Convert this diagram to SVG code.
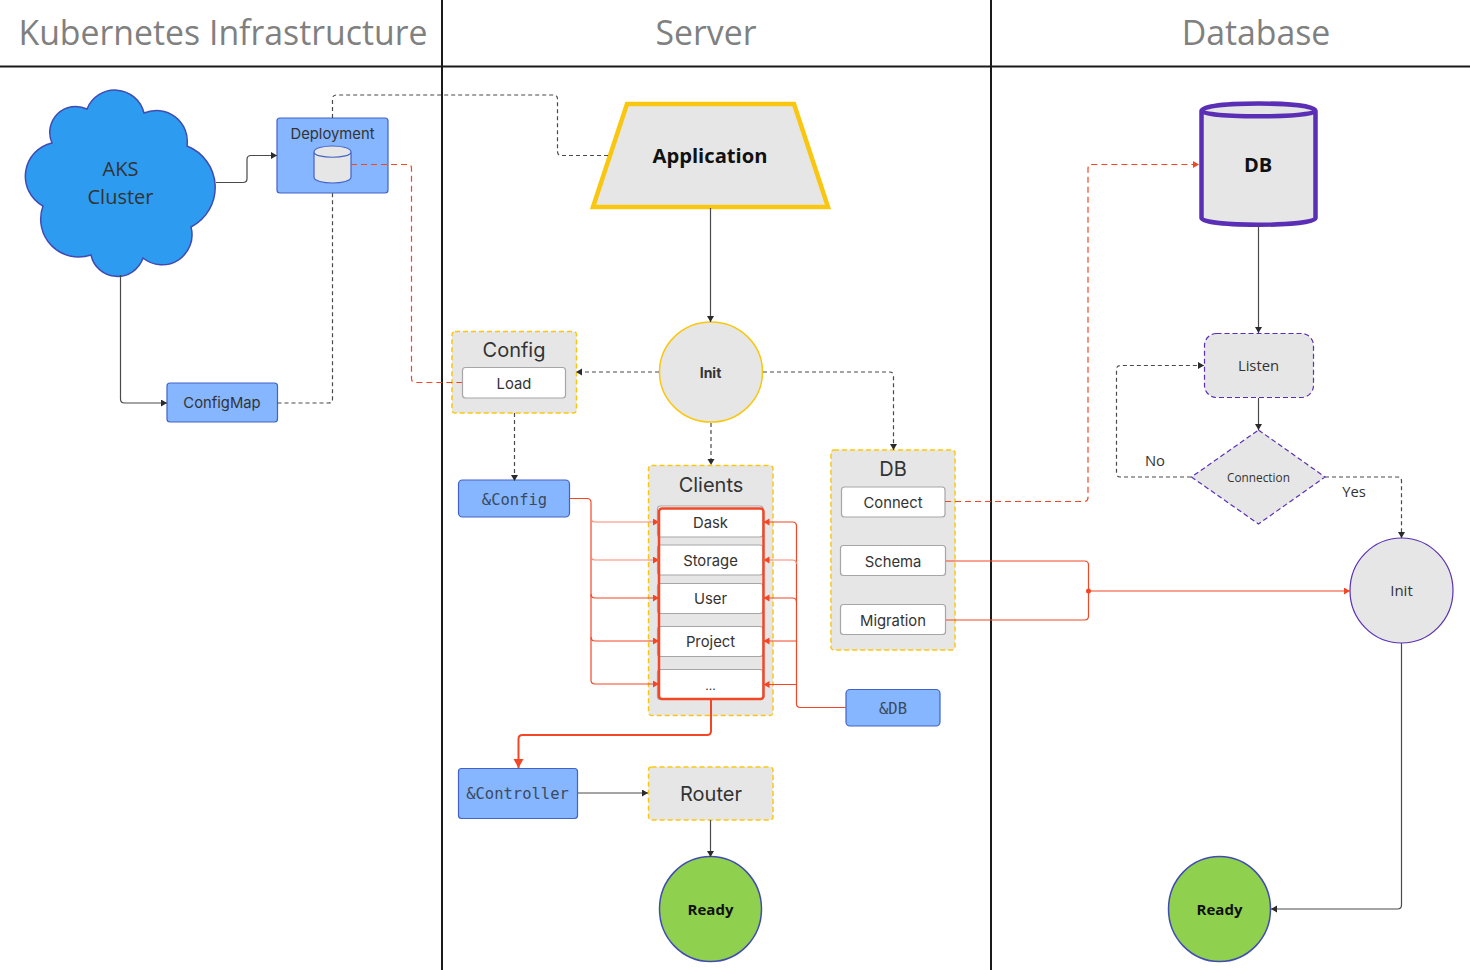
<svg xmlns="http://www.w3.org/2000/svg" width="1470" height="970" viewBox="0 0 1470 970">
<style>
text{text-anchor:middle;dominant-baseline:central;fill:#333;font-family:"Inter","Noto Sans",sans-serif}
.os{font-family:"Open Sans","Noto Sans",sans-serif}
.mono{font-family:"DejaVu Sans Mono","Liberation Mono",monospace;font-size:15.500px;fill:#3a4a60}
.title{font-family:"Open Sans","Noto Sans",sans-serif;font-size:33.800px;fill:#808080}
.lane{stroke:#1a1a1a;stroke-width:2;fill:none}
.grp{fill:#e6e6e6;stroke:#fac710;stroke-width:1.5;stroke-dasharray:5 3}
.wht{fill:#fff;stroke:#a6a6a6;stroke-width:1.2}
.blue{fill:#86b6ff;stroke:#4262c8;stroke-width:1.2}
.c{fill:none;stroke:#4a4a4a;stroke-width:1.2}
.d{stroke-dasharray:4 3}
.r{fill:none;stroke:#f24726;stroke-width:1.2}
.rd{stroke-dasharray:6 4}
.lt{stroke:#f98a74}
.a{marker-end:url(#ad)}
.ar{marker-end:url(#ar)}
.t20{font-size:20px}
.t15{font-size:14.800px}
</style>
<defs>
<marker id="ad" markerUnits="userSpaceOnUse" markerWidth="8" markerHeight="8" refX="6" refY="3.5" orient="auto"><path d="M0 0L6 3.5L0 7z" fill="#2b2b2b"/></marker>
<marker id="ar" markerUnits="userSpaceOnUse" markerWidth="8" markerHeight="8" refX="6" refY="3.5" orient="auto"><path d="M0 0L6 3.5L0 7z" fill="#f24726"/></marker>
<marker id="ar2" markerUnits="userSpaceOnUse" markerWidth="11" markerHeight="11" refX="9" refY="5" orient="auto"><path d="M0 0L9 5L0 10z" fill="#f24726"/></marker>
</defs>
<rect width="1470" height="970" fill="#fff"/>
<g id="lanes">
<path class="lane" d="M0 66.500H1470M442 0V970M991 0V970"/>
<text class="title" x="223" y="31.500">Kubernetes Infrastructure</text>
<text class="title" x="706" y="31.500">Server</text>
<text class="title" x="1256" y="31.500">Database</text>
</g>
<g id="aks">
<path d="M87 109A30 30 0 0 1 144 113A31 31 0 0 1 187 146A44.500 44.500 0 0 1 191 227A30 30 0 0 1 143 258A27 27 0 0 1 91 255A38 38 0 0 1 43 206A34 34 0 0 1 52 143A26 26 0 0 1 87 109Z" fill="#2d9bf0" stroke="#414bb2" stroke-width="1.5"/>
<text class="os" x="120.500" y="168" font-size="20">AKS</text>
<text class="os" x="120.500" y="196" font-size="20">Cluster</text>
</g>
<g id="deployment">
<rect class="blue" x="277" y="118" width="111" height="75" rx="3"/>
<text class="t15" x="332.500" y="134">Deployment</text>
<path d="M314 152V177C314 185 351 185 351 177V152C351 144 314 144 314 152C314 159 351 159 351 152" fill="#e6e6e6" stroke="#4262c8" stroke-width="1.2"/>
</g>
<g id="configmap"><rect class="blue" x="167" y="383" width="110.500" height="39" rx="3"/><text class="t15" x="222" y="403">ConfigMap</text></g>
<g id="application">
<path d="M593 207L627 104H794L828 207Z" fill="#e6e6e6" stroke="#fac710" stroke-width="4.500"/>
<text class="os" x="710" y="155" font-size="20.200" font-weight="700" style="fill:#111">Application</text>
</g>
<g id="init-server"><ellipse cx="711" cy="372" rx="51.500" ry="50" fill="#e6e6e6" stroke="#fac710" stroke-width="1.5"/><text x="710.500" y="372" font-size="14" font-weight="700">Init</text></g>
<g id="config">
<rect class="grp" x="452" y="331.500" width="124.500" height="81.500" rx="3"/>
<text class="t20" x="514" y="350">Config</text>
<rect class="wht" x="462.500" y="367.500" width="103" height="30.500" rx="3"/>
<text class="t15" x="514" y="383.500">Load</text>
</g>
<g id="and-config"><rect class="blue" x="458.500" y="480" width="111" height="37" rx="4"/><text class="mono" x="514.500" y="500">&amp;Config</text></g>
<g id="clients">
<rect class="grp" x="648.500" y="465.500" width="124.500" height="250" rx="3"/>
<text class="t20" x="711" y="484.500">Clients</text>
<rect class="wht" x="657.500" y="506" width="105.500" height="31" rx="3"/><text class="t15" x="710.500" y="523">Dask</text>
<rect class="wht" x="657.500" y="545" width="105.500" height="30" rx="3"/><text class="t15" x="710.500" y="561">Storage</text>
<rect class="wht" x="657.500" y="583.500" width="105.500" height="30" rx="3"/><text class="t15" x="710.500" y="599">User</text>
<rect class="wht" x="657.500" y="626.500" width="105.500" height="30" rx="3"/><text class="t15" x="710.500" y="642">Project</text>
<rect class="wht" x="657.500" y="669.500" width="105.500" height="30" rx="3"/><text class="t15" x="710.500" y="685" style="font-size:12px">...</text>
<rect x="659" y="508.500" width="104.500" height="190.500" rx="3" fill="none" stroke="#f24726" stroke-width="2.500"/>
</g>
<g id="db-group">
<rect class="grp" x="831" y="450" width="124" height="200" rx="3"/>
<text class="t20" x="893" y="468.500">DB</text>
<rect class="wht" x="841.500" y="487" width="103.500" height="30" rx="3"/><text class="t15" x="893" y="502.500">Connect</text>
<rect class="wht" x="840.500" y="545.500" width="105" height="30" rx="3"/><text class="t15" x="893" y="561.500">Schema</text>
<rect class="wht" x="840.500" y="604.500" width="105" height="30" rx="3"/><text class="t15" x="893" y="620.500">Migration</text>
</g>
<g id="and-db"><rect class="blue" x="846" y="689.500" width="94" height="36.500" rx="4"/><text class="mono" x="893" y="708.500">&amp;DB</text></g>
<g id="and-controller"><rect class="blue" x="458.500" y="768.500" width="119" height="50" rx="3"/><text class="mono" x="517.500" y="794">&amp;Controller</text></g>
<g id="router"><rect class="grp" x="648.500" y="767" width="124.500" height="53" rx="3"/><text class="t20" x="711" y="794">Router</text></g>
<g id="ready-server"><ellipse cx="710.500" cy="909" rx="51" ry="52.500" fill="#8fd14f" stroke="#414bb2" stroke-width="1.5"/><text class="os" x="710.500" y="909" font-size="15" font-weight="700" style="fill:#111">Ready</text></g>
<g id="db">
<path d="M1201.500 111V218C1201.500 227 1315.500 227 1315.500 218V111C1315.500 101 1201.500 101 1201.500 111C1201.500 118 1315.500 118 1315.500 111" fill="#e6e6e6" stroke="#5b2fb5" stroke-width="4.500"/>
<text class="os" x="1258" y="164.500" font-size="20" font-weight="700" style="fill:#111">DB</text>
</g>
<g id="listen"><rect x="1204.500" y="333.500" width="109" height="64" rx="12" fill="#e6e6e6" stroke="#5b2fb5" stroke-width="1.2" stroke-dasharray="5 3"/><text class="os" x="1258.500" y="365" font-size="14.800">Listen</text></g>
<g id="connection"><path d="M1258.500 430L1325 477L1258.500 524L1191.500 477Z" fill="#e6e6e6" stroke="#5b2fb5" stroke-width="1.2" stroke-dasharray="5 3"/><text class="os" x="1258.500" y="476.500" font-size="11.800">Connection</text></g>
<g id="init-db"><ellipse cx="1401.500" cy="590.500" rx="51.500" ry="52.500" fill="#e6e6e6" stroke="#5b2fb5" stroke-width="1.2"/><text class="os" x="1401.500" y="590" font-size="15">Init</text></g>
<g id="ready-db"><ellipse cx="1219.500" cy="909" rx="51" ry="52.500" fill="#8fd14f" stroke="#414bb2" stroke-width="1.5"/><text class="os" x="1219.500" y="909" font-size="15" font-weight="700" style="fill:#111">Ready</text></g>
<g id="connectors">
<path class="c a" d="M216 182.500H243Q247 182.500 247 178.500V159.500Q247 155.500 251 155.500H277"/>
<path class="c a" d="M120.500 275V399Q120.500 403 124.500 403H167"/>
<path class="c d" d="M277.500 403H328.500Q332.500 403 332.500 399V193"/>
<path class="c d" d="M332.500 118V99Q332.500 95 336.500 95H553.500Q557.500 95 557.500 99V151.500Q557.500 155.500 561.500 155.500H610"/>
<path class="r rd" d="M351 164.500H407.500Q411.500 164.500 411.500 168.500V378.500Q411.500 382.500 415.500 382.500H462"/>
<path class="c a" d="M710.500 208V322"/>
<path class="c d a" d="M659 372H576"/>
<path class="c d a" d="M763 372H889.500Q893.500 372 893.500 376V450"/>
<path class="c d a" d="M711 423V465"/>
<path class="c d a" d="M514.500 413V481"/>
<path class="r" d="M570 498.500H587Q591 498.500 591 502.500V680Q591 684 595 684H659" marker-end="url(#ar)"/>
<path class="r lt ar" d="M591 518Q591 522 595 522H659"/>
<path class="r lt ar" d="M591 556Q591 560 595 560H659"/>
<path class="r ar" d="M591 594Q591 598 595 598H659"/>
<path class="r ar" d="M591 637Q591 641 595 641H659"/>
<path class="r" d="M846 707.500H800.500Q796.500 707.500 796.500 703.500V526Q796.500 522 792.500 522H763.500" marker-end="url(#ar)"/>
<path class="r lt ar" d="M796.500 564Q796.500 560 792.500 560H763.500"/>
<path class="r ar" d="M796.500 602Q796.500 598 792.500 598H763.500"/>
<path class="r ar" d="M796.500 641H763.500"/>
<path class="r ar" d="M796.500 684.500H763.500"/>
<path d="M711 699V731Q711 735 707 735H522.500Q518.500 735 518.500 739V768" fill="none" stroke="#f24726" stroke-width="2" marker-end="url(#ar2)"/>
<path class="c a" d="M578 793H648"/>
<path class="c a" d="M710.500 820V857"/>
<path class="c a" d="M1258.500 226V333"/>
<path class="c a" d="M1258.500 398V430"/>
<path class="c d a" d="M1191 477H1120.500Q1116.500 477 1116.500 473V369.500Q1116.500 365.500 1120.500 365.500H1204"/>
<path class="c d a" d="M1325 477H1397.500Q1401.500 477 1401.500 481V538"/>
<path class="c a" d="M1401.500 643V905Q1401.500 909 1397.500 909H1271"/>
<path class="r rd ar" d="M945 501.500H1084Q1088 501.500 1088 497.500V168.500Q1088 164.500 1092 164.500H1199"/>
<path class="r" d="M946 561H1084.500Q1088.500 561 1088.500 565V616Q1088.500 620 1084.500 620H946"/>
<path class="r ar" d="M1088.500 591H1350"/>
<circle cx="1088.500" cy="591" r="2.500" fill="#f24726"/>
<text class="os" x="1155" y="460" font-size="14.800">No</text>
<text class="os" x="1354" y="491" font-size="14.800">Yes</text>
</g>
</svg>
